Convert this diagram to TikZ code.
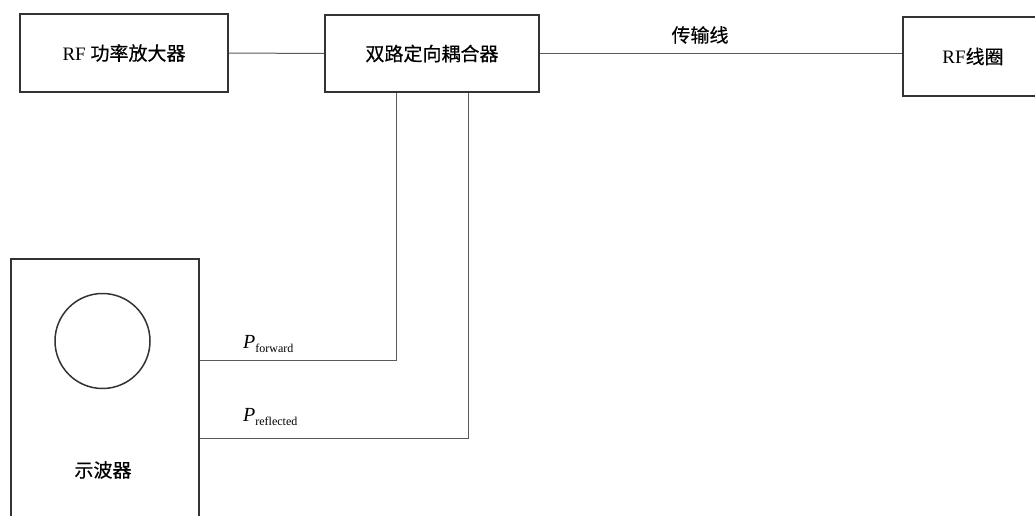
\documentclass[tikz,border=0pt]{standalone}
\usepackage{fontspec}
\setmainfont{Liberation Serif}
\newfontfamily\cjk{Noto Sans CJK SC}[FakeBold=0.4]
\begin{document}
\begin{tikzpicture}[x=1pt,y=-1pt,
  box/.style={draw=black!80,line width=1.5pt,rectangle,inner sep=0pt,font=\fontsize{19}{22}\selectfont},
  wire/.style={draw=black!65,line width=1pt},
  lbl/.style={inner sep=0pt,font=\fontsize{19}{22}\selectfont}]
\useasboundingbox[fill=white] (0,0) rectangle (1035,516);
\node[box,minimum width=208pt,minimum height=78pt] (A) at (124,53) {RF {\cjk 功率放大器}};
\node[box,minimum width=214pt,minimum height=77pt] (B) at (432,53.5) {\cjk 双路定向耦合器};
\node[box,minimum width=140pt,minimum height=79pt] (C) at (973,56.5) {RF{\cjk 线圈}};
\node[box,minimum width=188pt,minimum height=280pt] (D) at (105,399) {};
\node[draw=black!80,line width=1.5pt,circle,minimum size=95pt,inner sep=0pt] (S) at (102.5,341) {};
\node[lbl] (Dt) at (103,470) {\cjk 示波器};
\node[lbl] (T) at (700,35) {\cjk 传输线};
\node[lbl,anchor=base west,font=\fontsize{20}{22}\selectfont] (PF) at (243,348) {{\itshape P}\raisebox{-0.45ex}{\fontsize{12}{13}\selectfont forward}};
\node[lbl,anchor=base west,font=\fontsize{20}{22}\selectfont] (PR) at (243,421) {{\itshape P}\raisebox{-0.45ex}{\fontsize{12}{13}\selectfont reflected}};
\draw[wire] (A.east) -- (B.west);
\draw[wire] (B.east) -- (B.east -| C.west);
\draw[wire] ([xshift=-36pt]B.south) |- (D.east |- 0,360);
\draw[wire] ([xshift=36pt]B.south) |- (D.east |- 0,438);
\end{tikzpicture}
\end{document}
